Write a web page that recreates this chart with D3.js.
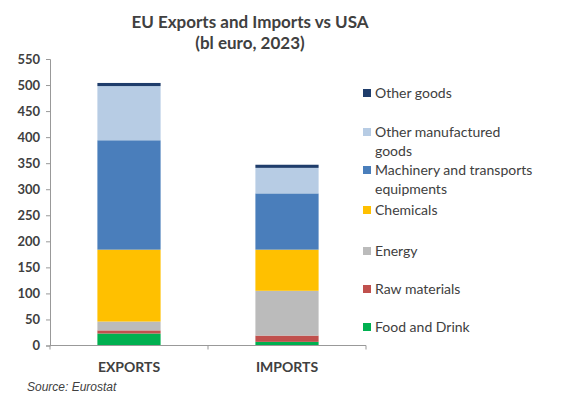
<!DOCTYPE html>
<html>
<head>
<meta charset="utf-8">
<script src="https://cdn.jsdelivr.net/npm/d3@7"></script>
<style>
body { margin: 0; background: #fff; }
text { font-family: "Lato", "DejaVu Sans", sans-serif; fill: #404040; }
</style>
</head>
<body>
<div id="chart"></div>
<script>
var width = 567, height = 395

// data (bl euro)
var categories = ["EXPORTS", "IMPORTS"]
var series = ["Food and Drink", "Raw materials", "Energy", "Chemicals",
              "Machinery and transports equipments", "Other manufactured goods", "Other goods"]
var exportsVals = [23, 6, 17, 138, 210, 104, 6]
var importsVals = [7, 12, 86, 79, 108, 49, 6]
var yTicks = [0, 50, 100, 150, 200, 250, 300, 350, 400, 450, 500, 550]
var colors = ["#00B050", "#C0504D", "#BBBBBB", "#FFC000", "#4A7EBB", "#B7CCE4", "#1F3D6B"]

var legendLines = [
    ["Other goods"],
    ["Other manufactured", "goods"],
    ["Machinery and transports", "equipments"],
    ["Chemicals"],
    ["Energy"],
    ["Raw materials"],
    ["Food and Drink"]
]
var legendIdx = [6, 5, 4, 3, 2, 1, 0]

var table = categories.map(function(c, i) {
    var row = {cat: c}
    var vals = i == 0 ? exportsVals : importsVals
    series.forEach(function(s, j) { row[s] = vals[j] })
    return row
})

var svg = d3.select("#chart").append("svg")
    .attr("width", width)
    .attr("height", height)

var margin = {left: 50, top: 59, right: 201, bottom: 49.5}

var x = d3.scaleBand().domain(categories)
    .range([margin.left, width - margin.right])
    .paddingInner(0.6).paddingOuter(0.3)
var y = d3.scaleLinear().domain([0, 550])
    .range([height - margin.bottom, margin.top])

var stack = d3.stack().keys(series)(table)

// title
svg.append("text").attr("x", 250).attr("y", 28)
    .attr("text-anchor", "middle")
    .style("font-size", "17px").style("font-weight", "bold")
    .text("EU Exports and Imports vs USA")
svg.append("text").attr("x", 250).attr("y", 49)
    .attr("text-anchor", "middle")
    .style("font-size", "17px").style("font-weight", "bold")
    .text("(bl euro, 2023)")

// bars
svg.append("g").selectAll("g")
    .data(stack)
    .enter().append("g")
    .attr("fill", function(d, i) { return colors[i] })
    .selectAll("rect")
    .data(function(d) { return d })
    .enter().append("rect")
    .attr("x", function(d) { return x(d.data.cat) })
    .attr("width", x.bandwidth())
    .attr("y", function(d) { return y(d[1]) })
    .attr("height", function(d) { return y(d[0]) - y(d[1]) })

// y axis
var yAxis = svg.append("g")
    .attr("transform", "translate(" + margin.left + ",0)")
    .call(d3.axisLeft(y).tickValues(yTicks).tickSize(4).tickSizeOuter(4))
yAxis.select(".domain").attr("stroke", "#999")
yAxis.selectAll(".tick line").attr("stroke", "#999")
yAxis.selectAll(".tick text")
    .attr("x", -10)
    .style("font-family", "Lato, 'DejaVu Sans', sans-serif")
    .style("font-size", "13px").style("font-weight", "bold")
    .attr("fill", "#404040")

// x axis
var xBase = y(0)
svg.append("line")
    .attr("x1", margin.left).attr("x2", width - margin.right)
    .attr("y1", xBase).attr("y2", xBase)
    .attr("stroke", "#999")
var step = (width - margin.right - margin.left) / categories.length
d3.range(categories.length + 1).forEach(function(i) {
    svg.append("line")
        .attr("x1", margin.left + i * step).attr("x2", margin.left + i * step)
        .attr("y1", xBase).attr("y2", xBase + 4)
        .attr("stroke", "#999")
})
svg.append("g").selectAll("text")
    .data(categories)
    .enter().append("text")
    .attr("x", function(d) { return x(d) + x.bandwidth() / 2 })
    .attr("y", 372)
    .attr("text-anchor", "middle")
    .style("font-size", "14px").style("font-weight", "bold")
    .attr("fill", "#595959")
    .text(function(d) { return d })

// legend
var legendY = [93, 132, 170, 210, 251, 289, 327]
legendLines.forEach(function(lines, k) {
    var g = svg.append("g")
    g.append("rect")
        .attr("x", 363).attr("y", legendY[k] - 4)
        .attr("width", 8).attr("height", 8)
        .attr("fill", colors[legendIdx[k]])
    lines.forEach(function(l, m) {
        g.append("text")
            .attr("x", 375).attr("y", legendY[k] + 5 + m * 19)
            .style("font-size", "14px")
            .text(l)
    })
})

// source
svg.append("text").attr("x", 27).attr("y", 391)
    .style("font-size", "12px").style("font-style", "italic")
    .style("font-family", "'Liberation Sans', Arial, sans-serif")
    .attr("fill", "#222")
    .text("Source: Eurostat")
</script>
</body>
</html>
